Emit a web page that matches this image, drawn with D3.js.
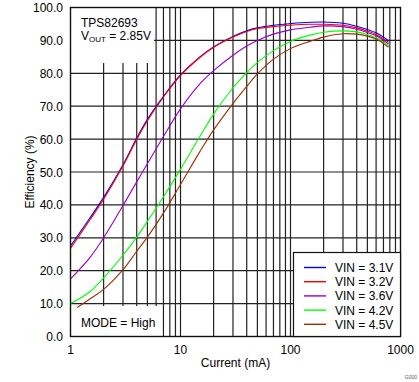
<!DOCTYPE html>
<html>
<head>
<meta charset="utf-8">
<script src="https://cdn.jsdelivr.net/npm/d3@7"></script>
<style>
  body { margin: 0; background: #fff; }
  svg { display: block; font-family: "Liberation Sans", Arial, sans-serif; }
</style>
</head>
<body>
<svg width="419" height="382"></svg>
<script>
// values
const current = [1, 1.5, 2, 3, 4, 5, 7, 10, 15, 20, 30, 40, 50, 70, 100, 150, 200, 300, 400, 500, 600, 780];
const current45 = [1.15, 1.5, 2, 3, 4, 5, 7, 10, 15, 20, 30, 40, 50, 70, 100, 150, 200, 300, 400, 500, 600, 780];
const vin31 = [27.5, 36.0, 42.3, 52.2, 60.3, 66.0, 73.0, 79.5, 85.0, 88.0, 91.2, 92.9, 93.8, 94.6, 95.1, 95.5, 95.6, 95.2, 94.3, 93.3, 92.3, 89.9];
const vin32 = [26.8, 35.4, 41.7, 51.8, 59.9, 65.6, 72.8, 79.3, 84.8, 87.9, 91.0, 92.7, 93.6, 94.2, 94.6, 94.9, 94.9, 94.6, 93.8, 92.8, 91.8, 89.4];
const vin36 = [17.5, 24.0, 30.0, 39.8, 47.0, 52.5, 60.8, 69.2, 76.8, 80.8, 85.5, 88.3, 90.0, 91.9, 93.2, 94.0, 94.4, 94.2, 93.4, 92.4, 91.4, 88.9];
const vin42 = [10.0, 13.6, 17.8, 24.7, 30.2, 35.0, 42.5, 50.8, 60.8, 67.6, 75.6, 80.2, 83.3, 86.9, 89.7, 91.6, 92.5, 92.9, 92.6, 91.8, 90.8, 88.4];
const vin45 = [8.8, 11.4, 14.3, 20.3, 25.9, 30.2, 37.5, 46.2, 56.2, 62.8, 70.8, 76.0, 79.8, 84.3, 87.5, 89.7, 91.0, 92.0, 91.9, 91.3, 90.4, 87.9];

const seriesNames = ["VIN = 3.1V", "VIN = 3.2V", "VIN = 3.6V", "VIN = 4.2V", "VIN = 4.5V"];
const seriesColors = ["#0000ff", "#ff0000", "#9900cc", "#00ff00", "#993300"];
const xTicks = [1, 10, 100, 1000];
const yTicks = [0, 10, 20, 30, 40, 50, 60, 70, 80, 90, 100];

const series = [
  {name: seriesNames[0], color: seriesColors[0], x: current, y: vin31},
  {name: seriesNames[1], color: seriesColors[1], x: current, y: vin32},
  {name: seriesNames[2], color: seriesColors[2], x: current, y: vin36},
  {name: seriesNames[3], color: seriesColors[3], x: current, y: vin42},
  {name: seriesNames[4], color: seriesColors[4], x: current45, y: vin45}
];

var svg = d3.select("svg");
var pLeft = 70.5, pRight = 400.5, pTop = 7.5, pBottom = 336.5;

var x = d3.scaleLog().domain([1, 1000]).range([pLeft, pRight]);
var y = d3.scaleLinear().domain([0, 100]).range([pBottom, pTop]);

// grid
var minor = [];
[1, 10, 100].forEach(function(d) {
  for (var i = 2; i <= 9; i++) minor.push(d * i);
});
minor = minor.concat([10, 100]);

var grid = svg.append("g").attr("stroke", "#222").attr("stroke-width", 1.2);
grid.selectAll(".vx").data(minor).enter().append("line")
  .attr("x1", d => x(d)).attr("x2", d => x(d))
  .attr("y1", pTop).attr("y2", pBottom);
grid.selectAll(".hy").data(yTicks.slice(1, -1)).enter().append("line")
  .attr("x1", pLeft).attr("x2", pRight)
  .attr("y1", d => y(d)).attr("y2", d => y(d));

// white boxes behind the notes
svg.append("rect").attr("x", pLeft + 0.5).attr("y", pTop + 0.5)
  .attr("width", 83).attr("height", 55).attr("fill", "#fff");
svg.append("rect").attr("x", pLeft + 0.5).attr("y", 306)
  .attr("width", 90).attr("height", 30).attr("fill", "#fff");

// curves
var line = d3.line()
  .x(d => x(d[0]))
  .y(d => y(d[1]))
  .curve(d3.curveCatmullRom.alpha(0.5));

svg.append("g").selectAll("path").data(series).enter().append("path")
  .attr("d", s => line(s.x.map((c, i) => [c, s.y[i]])))
  .attr("fill", "none")
  .attr("stroke", s => s.color)
  .attr("stroke-width", 1.1);

// frame
svg.append("rect").attr("x", pLeft).attr("y", pTop)
  .attr("width", pRight - pLeft).attr("height", pBottom - pTop)
  .attr("fill", "none").attr("stroke", "#111").attr("stroke-width", 1.4);

// axis labels
svg.append("g").selectAll("text").data(yTicks).enter().append("text")
  .attr("x", 63).attr("y", d => y(d) + 4.5)
  .attr("text-anchor", "end").attr("font-size", 12)
  .text(d => d3.format(".1f")(d));

svg.append("g").selectAll("text").data(xTicks).enter().append("text")
  .attr("x", d => x(d)).attr("y", 354)
  .attr("text-anchor", "middle").attr("font-size", 12)
  .text(d => d);

svg.append("text").attr("x", (pLeft + pRight) / 2).attr("y", 367)
  .attr("text-anchor", "middle").attr("font-size", 12)
  .text("Current (mA)");

svg.append("text")
  .attr("transform", "translate(34," + ((pTop + pBottom) / 2) + ") rotate(-90)")
  .attr("text-anchor", "middle").attr("font-size", 12)
  .text("Efficiency (%)");

// notes
svg.append("text").attr("x", 81).attr("y", 27).attr("font-size", 12).text("TPS82693");
var vout = svg.append("text").attr("x", 81).attr("y", 40).attr("font-size", 12);
vout.append("tspan").text("V");
vout.append("tspan").attr("font-size", 8).attr("dy", 2).text("OUT");
vout.append("tspan").attr("dy", -2).text(" = 2.85V");

svg.append("text").attr("x", 81).attr("y", 327).attr("font-size", 12).text("MODE = High");

// legend
var lg = svg.append("g");
lg.append("rect").attr("x", 293.5).attr("y", 252.5).attr("width", 107).attr("height", 84)
  .attr("fill", "#fff").attr("stroke", "#111").attr("stroke-width", 1.2);
var item = lg.selectAll("g").data(series).enter().append("g")
  .attr("transform", (d, i) => "translate(0," + (267.5 + i * 14.2) + ")");
item.append("line").attr("x1", 304).attr("x2", 326)
  .attr("stroke", d => d.color).attr("stroke-width", 1.4);
item.append("text").attr("x", 335).attr("y", 4.5).attr("font-size", 12).text(d => d.name);

svg.append("text").attr("x", 417).attr("y", 379).attr("text-anchor", "end")
  .attr("font-size", 5).attr("fill", "#555").text("G000");
</script>
</body>
</html>
